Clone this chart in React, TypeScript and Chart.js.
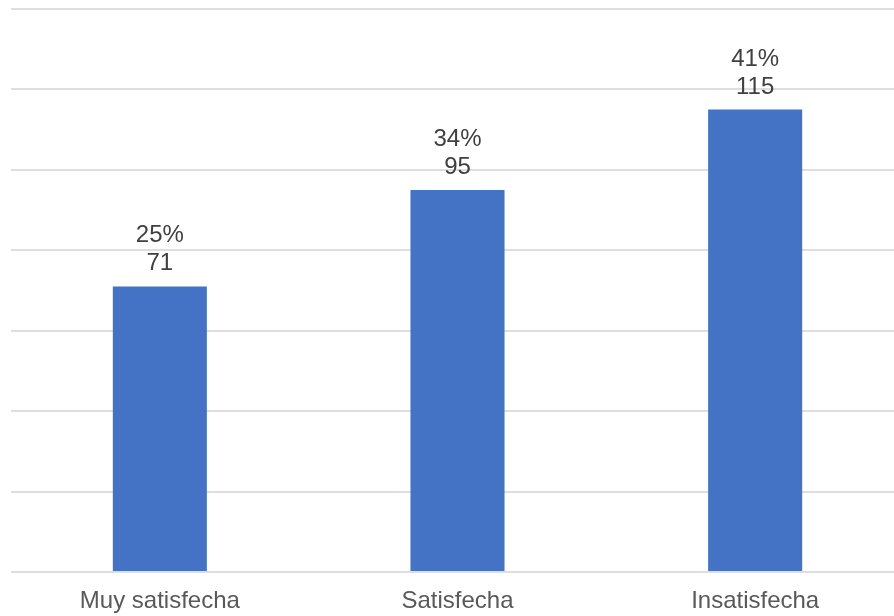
import React, { useEffect, useRef } from "react";
import { Chart, registerables } from "chart.js";

Chart.register(...registerables);

const categories = ["Muy satisfecha", "Satisfecha", "Insatisfecha"];
const counts = [71, 95, 115];
const percents = [25, 34, 41];
const yMax = 140;
const yStep = 20;

const FONT = "'Liberation Sans', Arial, sans-serif";

const valueLabels = {
  id: "valueLabels",
  afterDatasetsDraw(chart: any) {
    const ctx = chart.ctx;
    const meta = chart.getDatasetMeta(0);
    ctx.save();
    ctx.font = `24px ${FONT}`;
    ctx.fillStyle = "#404040";
    ctx.textAlign = "center";
    ctx.textBaseline = "alphabetic";
    meta.data.forEach((el: any, i: number) => {
      const x = el.x;
      const y = el.y;
      ctx.fillText(`${percents[i]}%`, x, y - 44);
      ctx.fillText(String(counts[i]), x, y - 16);
    });
    ctx.restore();
  },
};

export default function App() {
  const ref = useRef<HTMLCanvasElement | null>(null);
  useEffect(() => {
    if (!ref.current) return;
    const chart = new Chart(ref.current, {
      type: "bar",
      data: {
        labels: categories,
        datasets: [
          {
            data: counts,
            backgroundColor: "#4472C4",
            borderWidth: 0,
            barPercentage: 0.316,
            categoryPercentage: 1,
          },
        ],
      },
      options: {
        animation: false,
        responsive: false,
        maintainAspectRatio: false,
        layout: { padding: { top: 9, left: 11, right: 0, bottom: 0 } },
        plugins: { legend: { display: false }, tooltip: { enabled: false } },
        scales: {
          x: {
            grid: { display: false, drawTicks: false },
            border: { display: false },
            ticks: {
              color: "#595959",
              font: { size: 24, family: FONT },
              padding: 15,
              maxRotation: 0,
            },
            afterFit(scale: any) {
              scale.height = 44;
            },
          },
          y: {
            min: 0,
            max: yMax,
            ticks: { display: false, stepSize: yStep },
            grid: { color: "#dedede", lineWidth: 2, drawTicks: false },
            border: { display: false },
          },
        },
      },
      plugins: [valueLabels],
    });
    return () => chart.destroy();
  }, []);
  return (
    <div
      style={{
        position: "fixed",
        left: 0,
        top: 0,
        width: 894,
        height: 616,
        overflow: "hidden",
        background: "#fff",
      }}
    >
      <canvas ref={ref} width={904} height={616} style={{ display: "block" }} />
    </div>
  );
}
